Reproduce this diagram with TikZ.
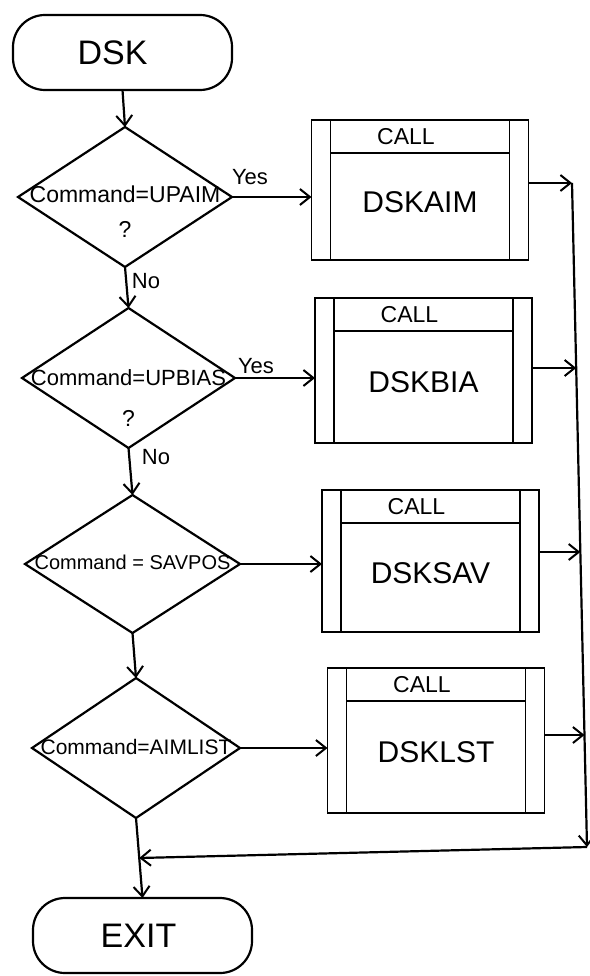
\documentclass[tikz,border=0pt]{standalone}
\usepackage{fontspec}
\setmainfont{Liberation Sans}
\usetikzlibrary{arrows.meta,shapes.geometric,calc}

\tikzset{
  ln/.style={line width=2.2pt},
  arr/.style={ln,-{Straight Barb[length=10pt,width=16pt,line width=2pt]}},
  term/.style={draw,ln,rounded corners=32pt,minimum width=219pt,minimum height=75pt,inner sep=0pt,outer sep=0pt},
  dec/.style={draw,ln,shape=diamond,inner sep=0pt,outer sep=0pt},
  cbox/.style={draw,line width=1.8pt,minimum width=217pt,inner sep=0pt,outer sep=0pt},
  cboxline/.style={line width=1.8pt},
  lbl/.style={font=\fontsize{22}{24}\selectfont},
  big/.style={font=\fontsize{30}{32}\selectfont},
  calltxt/.style={font=\fontsize{23}{25}\selectfont},
  termtxt/.style={font=\fontsize{34}{36}\selectfont},
}

\newcommand\mkcallbox[4]{%
  \node[cbox,minimum height=#3pt] (#1) at (#2) {};
  \draw[cboxline] ([xshift=19pt]#1.north west) -- ([xshift=19pt]#1.south west);
  \draw[cboxline] ([xshift=-19pt]#1.north east) -- ([xshift=-19pt]#1.south east);
  \draw[cboxline] ([xshift=19pt,yshift=-33pt]#1.north west) -- ([xshift=-19pt,yshift=-33pt]#1.north east);
  \node[calltxt] (#1c) at ([xshift=-14pt,yshift=-17pt]#1.north) {CALL};
  \node[big] (#1t) at ([yshift=-12pt]#1.center) {#4};
}

\begin{document}
\begin{tikzpicture}[x=1pt,y=-1pt]
\useasboundingbox (0,0) rectangle (589,976);

% terminals
\node[term] (dsk) at (122.5,52.5) {};
\node[termtxt] (dskt) at ([xshift=-10pt]dsk.center) {DSK};
\node[term] (exit) at (142.5,935.5) {};
\node[termtxt] (exitt) at ([xshift=-4pt]exit.center) {EXIT};

% decisions
\node[dec,minimum width=214pt,minimum height=140pt] (d1) at (125,197) {};
\node[font=\fontsize{23}{25}\selectfont] (d1t) at ([yshift=3pt]d1.center) {Command=UPAIM};
\node[font=\fontsize{23}{25}\selectfont] (d1q) at ([yshift=-32pt]d1.center) {?};

\node[dec,minimum width=213pt,minimum height=140pt] (d2) at (128.5,378) {};
\node[font=\fontsize{22}{24}\selectfont] (d2t) at ([yshift=0pt]d2.center) {Command=UPBIAS};
\node[font=\fontsize{23}{25}\selectfont] (d2q) at ([yshift=-40pt]d2.center) {?};

\node[dec,minimum width=215pt,minimum height=138pt] (d3) at (132.5,564) {};
\node[font=\fontsize{20}{22}\selectfont] (d3t) at ([yshift=2pt]d3.center) {Command = SAVPOS};

\node[dec,minimum width=208pt,minimum height=140pt] (d4) at (136,748) {};
\node[font=\fontsize{21}{23}\selectfont] (d4t) at ([yshift=1pt]d4.center) {Command=AIMLIST};

% call boxes
\mkcallbox{b1}{420,190}{140}{DSKAIM}
\mkcallbox{b2}{423.5,370.5}{145}{DSKBIA}
\mkcallbox{b3}{430.5,561}{142}{DSKSAV}
\mkcallbox{b4}{436,740.5}{145}{DSKLST}

% main flow
\draw[arr] (dsk.south) -- (d1.north);
\draw[arr] (d1.south) -- (d2.north);
\draw[arr] (d2.south) -- (d3.north);
\draw[arr] (d3.south) -- (d4.north);
\draw[arr] (d4.south) -- (exit.north);

% yes branches
\draw[arr] (d1.east) -- (d1.east -| b1.west);
\draw[arr] (d2.east) -- (d2.east -| b2.west);
\draw[arr] (d3.east) -- (d3.east -| b3.west);
\draw[arr] (d4.east) -- (d4.east -| b4.west);

\node[lbl] (y1) at (250,177) {Yes};
\node[lbl] (y2) at (256,366) {Yes};
\node[lbl] (n1) at (146,281) {No};
\node[lbl] (n2) at (156,457) {No};

% return bus
\coordinate (r1) at (572,183);
\coordinate (r2) at (576.2,368);
\coordinate (r3) at (580.3,552);
\coordinate (r4) at (584.5,735);
\coordinate (rbot) at (587,847);
\coordinate (join) at ($(d4.south)!0.5!(exit.north)$);

\draw[arr] (b1.east |- r1) -- (r1);
\draw[arr] (b2.east |- r2) -- (r2);
\draw[arr] (b3.east |- r3) -- (r3);
\draw[arr] (b4.east |- r4) -- (r4);
\draw[arr] (r1) -- (rbot);
\draw[arr] (rbot) -- (join);
\end{tikzpicture}
\end{document}
